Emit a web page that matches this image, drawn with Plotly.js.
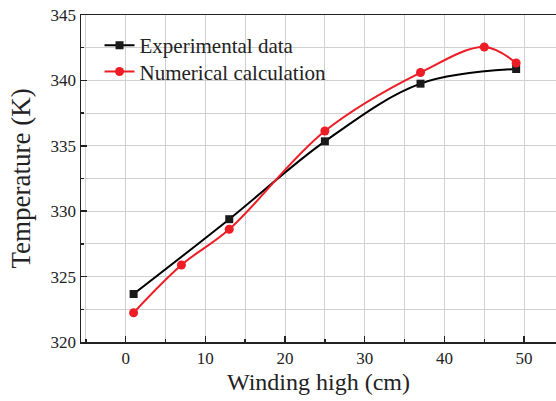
<!DOCTYPE html>
<html>
<head>
<meta charset="utf-8">
<script src="https://cdn.plot.ly/plotly-3.0.1.min.js"></script>
<style>html,body{margin:0;padding:0;background:#fff;}#chart{width:556px;height:401px;}</style>
</head>
<body>
<div id="chart"></div>
<script>
const expX = [1, 13, 25, 37, 49];
const expY = [323.67, 329.39, 335.34, 339.75, 340.87];
const numX = [1, 7, 13, 25, 37, 45, 49];
const numY = [322.24, 325.89, 328.62, 336.13, 340.6, 342.55, 341.33];
const xTickVals = [0, 10, 20, 30, 40, 50];
const yTickVals = [320, 325, 330, 335, 340, 345];

const font = 'Liberation Serif, Times New Roman, serif';
const traces = [
  {x: expX, y: expY, name: 'Experimental data', mode: 'lines+markers', type: 'scatter', legend: 'legend',
   line: {color: '#000000', width: 2, shape: 'spline', smoothing: 1},
   marker: {symbol: 'square', size: 8, color: '#1a1a1a'}},
  {x: numX, y: numY, name: 'Numerical calculation', mode: 'lines+markers', type: 'scatter', legend: 'legend2',
   line: {color: '#ee1c25', width: 2, shape: 'spline', smoothing: 1},
   marker: {symbol: 'circle', size: 9, color: '#ee1c25'}}
];
const legendBase = {xanchor: 'left', yanchor: 'top', bgcolor: 'rgba(0,0,0,0)', itemwidth: 30,
                    font: {family: font, size: 21, color: '#222'}};
const layout = {
  width: 556, height: 401,
  margin: {l: 81, r: 0, t: 15, b: 59},
  paper_bgcolor: '#fff', plot_bgcolor: '#fff',
  font: {family: font, color: '#222'},
  showlegend: true,
  legend: Object.assign({}, legendBase, {x: 0.039, y: 0.969}),
  legend2: Object.assign({}, legendBase, {x: 0.039, y: 0.889}),
  xaxis: {range: [-5.6, 54], tickvals: xTickVals, ticks: 'inside', ticklen: 6, tickwidth: 1.5,
          tickcolor: '#222', showline: true, linecolor: '#222', linewidth: 1.5, mirror: true,
          showgrid: true, gridcolor: '#d0d0d0', gridwidth: 1, zeroline: false,
          minor: {dtick: 5, tick0: 0, ticks: 'inside', ticklen: 3, showgrid: true, gridcolor: '#d0d0d0', tickcolor: '#222'},
          tickfont: {family: font, size: 17, color: '#222'},
          title: {text: 'Winding high (cm)', font: {family: font, size: 24, color: '#222'}, standoff: 6}},
  yaxis: {range: [320, 345], tickvals: yTickVals, ticks: 'inside', ticklen: 6, tickwidth: 1.5,
          tickcolor: '#222', showline: true, linecolor: '#222', linewidth: 1.5, mirror: true,
          showgrid: true, gridcolor: '#d0d0d0', gridwidth: 1, zeroline: false,
          minor: {dtick: 2.5, tick0: 320, ticks: 'inside', ticklen: 3, showgrid: true, gridcolor: '#d0d0d0', tickcolor: '#222'},
          tickfont: {family: font, size: 17, color: '#222'},
          title: {text: 'Temperature (K)', font: {family: font, size: 27, color: '#222'}, standoff: 12}}
};
Plotly.newPlot('chart', traces, layout, {displayModeBar: false, staticPlot: true});
</script>
</body>
</html>
